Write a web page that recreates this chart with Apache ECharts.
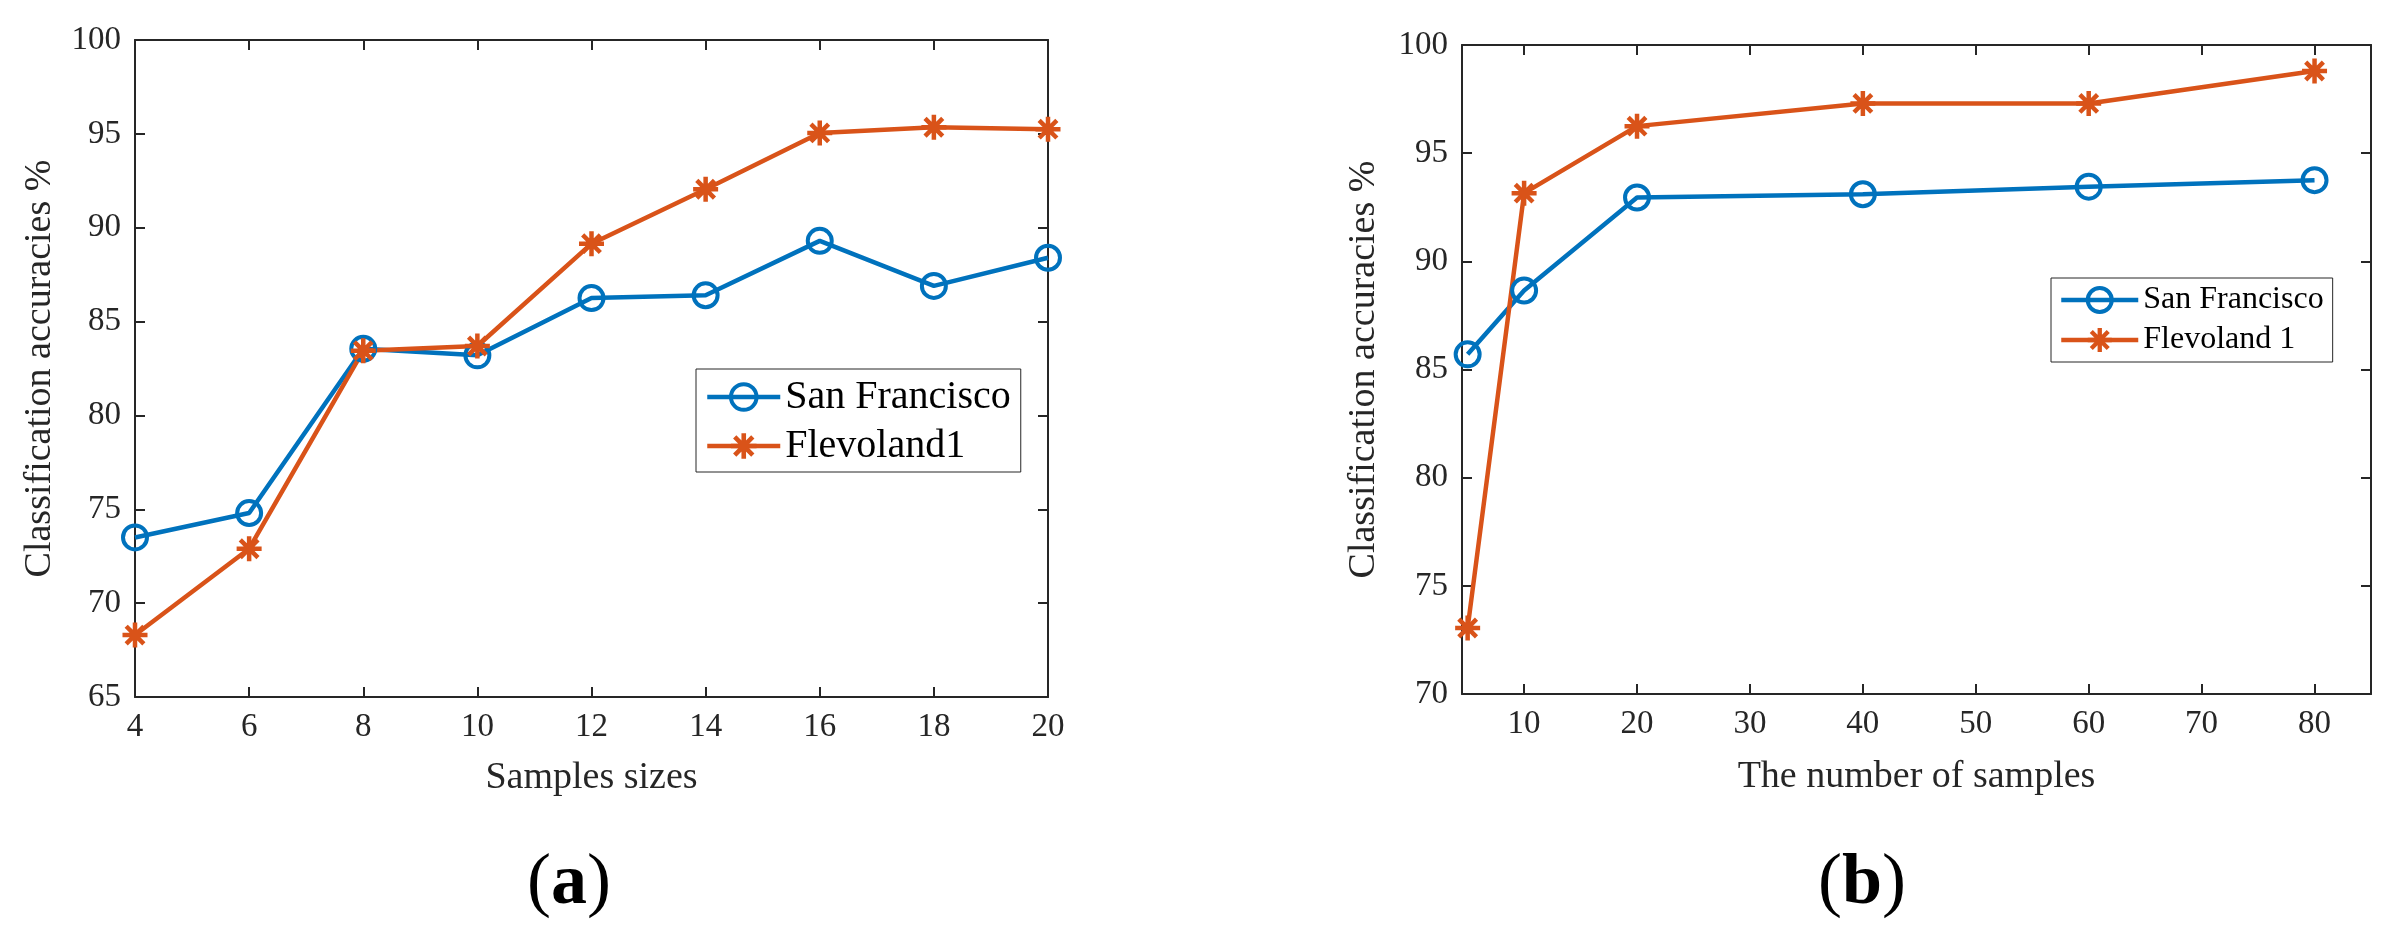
<!DOCTYPE html>
<html>
<head>
<meta charset="utf-8">
<title>Classification accuracies</title>
<script src="https://cdn.jsdelivr.net/npm/echarts@6/dist/echarts.min.js"></script>
<style>
    html, body { margin: 0; padding: 0; background: #fff; }
    #chart { width: 2400px; height: 939px; }
</style>
</head>
<body>
<div id="chart"></div>
<script>
// (a) 样本大小
var sizesA = [4, 6, 8, 10, 12, 14, 16, 18, 20];
var sanFranciscoA = [73.5, 74.8, 83.55, 83.2, 86.25, 86.4, 89.3, 86.9, 88.4];
var flevolandA = [68.3, 72.9, 83.45, 83.7, 89.15, 92.05, 95.05, 95.35, 95.25];
var yTicksA = [65, 70, 75, 80, 85, 90, 95, 100];

// (b) 样本数量
var samplesB = [5, 10, 20, 40, 60, 80];
var sanFranciscoB = [85.7, 88.65, 92.95, 93.1, 93.45, 93.75];
var flevolandB = [73.05, 93.15, 96.25, 97.3, 97.3, 98.8];
var xTicksB = [10, 20, 30, 40, 50, 60, 70, 80];
var yTicksB = [70, 75, 80, 85, 90, 95, 100];

var BLUE = '#0072BD';
var ORANGE = '#D95319';
var AXIS = '#262626';
var FONT = '"Liberation Serif", "Times New Roman", serif';

// 星号标记
var STAR = 'path://M0 41L100 41L100 59L0 59Z' +
    'M41 0L59 0L59 100L41 100Z' +
    'M21 8.3L91.7 79L79 91.7L8.3 21Z' +
    'M79 8.3L91.7 21L21 91.7L8.3 79Z';

function pairs(xs, ys) {
    var out = [];
    for (var i = 0; i < xs.length; i++) {
        out.push([xs[i], ys[i]]);
    }
    return out;
}

function circleSeries(name, xi, yi, data) {
    return {
        name: name,
        type: 'line',
        xAxisIndex: xi,
        yAxisIndex: yi,
        data: data,
        symbol: 'circle',
        symbolSize: 24,
        lineStyle: { color: BLUE, width: 4.5 },
        itemStyle: { color: 'rgba(255,255,255,0)', borderColor: BLUE, borderWidth: 4 }
    };
}

function starSeries(name, xi, yi, data) {
    return {
        name: name,
        type: 'line',
        xAxisIndex: xi,
        yAxisIndex: yi,
        data: data,
        symbol: STAR,
        symbolSize: 25,
        lineStyle: { color: ORANGE, width: 4.5 },
        itemStyle: { color: ORANGE }
    };
}

var tickLabel = { color: AXIS, fontFamily: FONT, fontSize: 33, margin: 14 };
var axisLine = { show: true, onZero: false, lineStyle: { color: AXIS, width: 2 } };
var axisTick = { show: true, inside: true, length: 10, lineStyle: { color: AXIS, width: 2 } };
var nameStyle = { color: AXIS, fontFamily: FONT, fontSize: 38 };

function mainY(grid, min, max, gap) {
    return {
        type: 'value', gridIndex: grid, min: min, max: max, interval: 5,
        name: 'Classification accuracies %', nameLocation: 'middle', nameGap: gap,
        nameTextStyle: nameStyle,
        axisLine: axisLine, axisTick: axisTick, axisLabel: tickLabel,
        splitLine: { show: false }
    };
}

function boxAxis(type, grid, pos, min, max, interval, custom) {
    var tick = { show: true, inside: true, length: 10, lineStyle: { color: AXIS, width: 2 } };
    if (custom) tick.customValues = custom;
    return {
        type: 'value', gridIndex: grid, position: pos, min: min, max: max, interval: interval,
        axisLine: axisLine, axisTick: tick, axisLabel: { show: false },
        splitLine: { show: false }
    };
}

function panelLabel(letter, x) {
    return {
        type: 'text', x: x, y: 884,
        style: {
            text: '{p|(}{b|' + letter + '}{p|)}',
            align: 'center', verticalAlign: 'middle',
            rich: {
                p: { fontFamily: FONT, fontSize: 72, fill: '#000' },
                b: { fontFamily: FONT, fontSize: 72, fontWeight: 'bold', fill: '#000' }
            }
        }
    };
}

var chart = echarts.init(document.getElementById('chart'), null, { renderer: 'canvas' });
var option = {
    backgroundColor: '#fff',
    animation: false,
    grid: [
        { left: 135, top: 40, width: 913, height: 657 },
        { left: 1462, top: 45, width: 909, height: 649 }
    ],
    xAxis: [
        {
            type: 'value', gridIndex: 0, min: 4, max: 20, interval: 2,
            name: 'Samples sizes', nameLocation: 'middle', nameGap: 62,
            nameTextStyle: nameStyle,
            axisLine: axisLine, axisTick: axisTick, axisLabel: tickLabel,
            splitLine: { show: false }
        },
        {
            type: 'value', gridIndex: 1, min: 4.5, max: 85,
            name: 'The number of samples', nameLocation: 'middle', nameGap: 64,
            nameTextStyle: nameStyle,
            axisLine: axisLine,
            axisTick: { show: true, inside: true, length: 10, customValues: xTicksB, lineStyle: { color: AXIS, width: 2 } },
            axisLabel: { color: AXIS, fontFamily: FONT, fontSize: 33, margin: 14, customValues: xTicksB },
            splitLine: { show: false }
        },
        boxAxis('x', 0, 'top', 4, 20, 2),
        boxAxis('x', 1, 'top', 4.5, 85, null, xTicksB)
    ],
    yAxis: [
        mainY(0, yTicksA[0], yTicksA[yTicksA.length - 1], 76),
        mainY(1, yTicksB[0], yTicksB[yTicksB.length - 1], 79),
        boxAxis('y', 0, 'right', yTicksA[0], yTicksA[yTicksA.length - 1], 5),
        boxAxis('y', 1, 'right', yTicksB[0], yTicksB[yTicksB.length - 1], 5)
    ],
    legend: [
        {
            data: ['San Francisco', 'Flevoland1'],
            orient: 'vertical', left: 696, top: 369,
            padding: [8, 10, 6, 9], itemGap: 9,
            itemWidth: 73, itemHeight: 32,
            lineStyle: { width: 4.5 },
            itemStyle: { borderWidth: 4 },
            backgroundColor: '#fff', borderColor: AXIS, borderWidth: 1,
            textStyle: { color: '#000', fontFamily: FONT, fontSize: 40 },
            selectedMode: false
        },
        {
            data: ['San Francisco', 'Flevoland 1'],
            orient: 'vertical', left: 2051, top: 278,
            padding: [6, 9, 6, 8], itemGap: 8,
            itemWidth: 77, itemHeight: 30,
            lineStyle: { width: 4.5 },
            itemStyle: { borderWidth: 4 },
            backgroundColor: '#fff', borderColor: AXIS, borderWidth: 1,
            textStyle: { color: '#000', fontFamily: FONT, fontSize: 32 },
            selectedMode: false
        }
    ],
    graphic: [
        panelLabel('a', 569),
        panelLabel('b', 1862)
    ],
    series: [
        circleSeries('San Francisco', 0, 0, pairs(sizesA, sanFranciscoA)),
        starSeries('Flevoland1', 0, 0, pairs(sizesA, flevolandA)),
        circleSeries('San Francisco', 1, 1, pairs(samplesB, sanFranciscoB)),
        starSeries('Flevoland 1', 1, 1, pairs(samplesB, flevolandB))
    ]
};
chart.setOption(option);
</script>
</body>
</html>
